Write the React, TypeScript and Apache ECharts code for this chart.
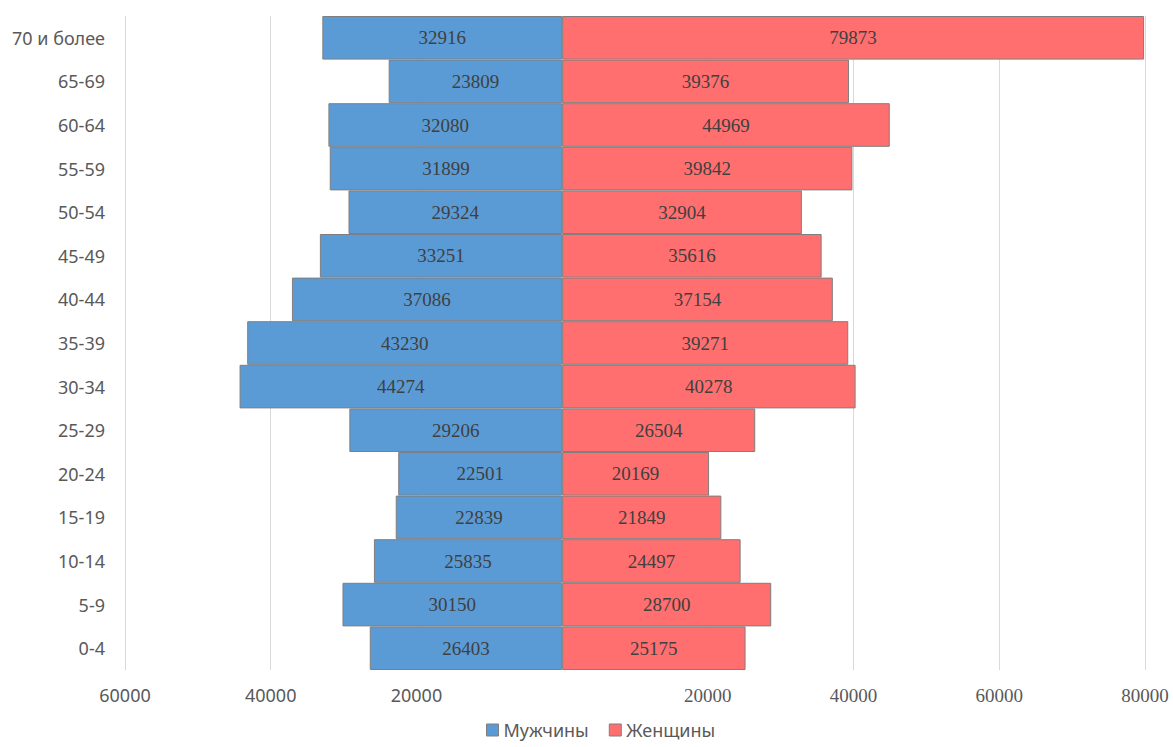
import React, { useEffect, useRef } from "react";
import * as echarts from "echarts";

const categories = ["0-4", "5-9", "10-14", "15-19", "20-24", "25-29", "30-34", "35-39", "40-44", "45-49", "50-54", "55-59", "60-64", "65-69", "70 и более"];
const men = [26403, 30150, 25835, 22839, 22501, 29206, 44274, 43230, 37086, 33251, 29324, 31899, 32080, 23809, 32916];
const women = [25175, 28700, 24497, 21849, 20169, 26504, 40278, 39271, 37154, 35616, 32904, 39842, 44969, 39376, 79873];
const seriesNames = ["Мужчины", "Женщины"];
const axisMin = -60000;
const axisMax = 80000;
const axisStep = 20000;

export default function App() {
  const ref = useRef<HTMLDivElement>(null);
  useEffect(() => {
    document.body.style.margin = "0";
    const chart = echarts.init(ref.current!, null, { renderer: "svg" });
    const labelStyle = {
      show: true,
      position: "inside",
      fontFamily: "Liberation Serif",
      fontSize: 19,
      color: "#404040",
      formatter: (p: any) => String(Math.abs(p.value)),
    };
    chart.setOption({
      animation: false,
      grid: { left: 125, right: 28, top: 16, bottom: 77, containLabel: false },
      legend: {
        top: 721,
        left: 486,
        itemWidth: 12,
        itemHeight: 12,
        itemGap: 20,
        padding: 0,
        icon: "rect",
        textStyle: { fontFamily: "Noto Sans", fontSize: 18, color: "#595959" },
        data: seriesNames.map((n) => ({ name: n, itemStyle: { borderColor: "#7f7f7f", borderWidth: 1 } })),
      },
      xAxis: {
        type: "value",
        min: axisMin,
        max: axisMax,
        interval: axisStep,
        axisLine: { show: false },
        axisTick: { show: false },
        splitLine: { lineStyle: { color: "#d9d9d9", width: 1 } },
        axisLabel: {
          margin: 16,
          formatter: (v: number) => (v === 0 ? "" : v < 0 ? `{l|${Math.abs(v)}}` : `{r|${v}}`),
          rich: {
            l: { fontFamily: "Noto Sans", fontSize: 18, color: "#595959" },
            r: { fontFamily: "Liberation Serif", fontSize: 19, color: "#595959" },
          },
        },
      },
      yAxis: {
        type: "category",
        data: categories,
        axisLine: { show: false },
        axisTick: { show: false },
        axisLabel: { fontFamily: "Noto Sans", fontSize: 18, color: "#595959", margin: 20 },
      },
      series: [
        {
          name: seriesNames[0],
          type: "bar",
          stack: "pop",
          barCategoryGap: 0,
          data: men.map((v) => -v),
          itemStyle: { color: "#5B9BD5", borderColor: "#7f7f7f", borderWidth: 1 },
          label: labelStyle,
        },
        {
          name: seriesNames[1],
          type: "bar",
          stack: "pop",
          barCategoryGap: 0,
          data: women,
          itemStyle: { color: "#FF6F6F", borderColor: "#7f7f7f", borderWidth: 1 },
          label: labelStyle,
        },
      ],
    });
    return () => chart.dispose();
  }, []);
  return <div ref={ref} style={{ width: 1173, height: 747 }} />;
}
